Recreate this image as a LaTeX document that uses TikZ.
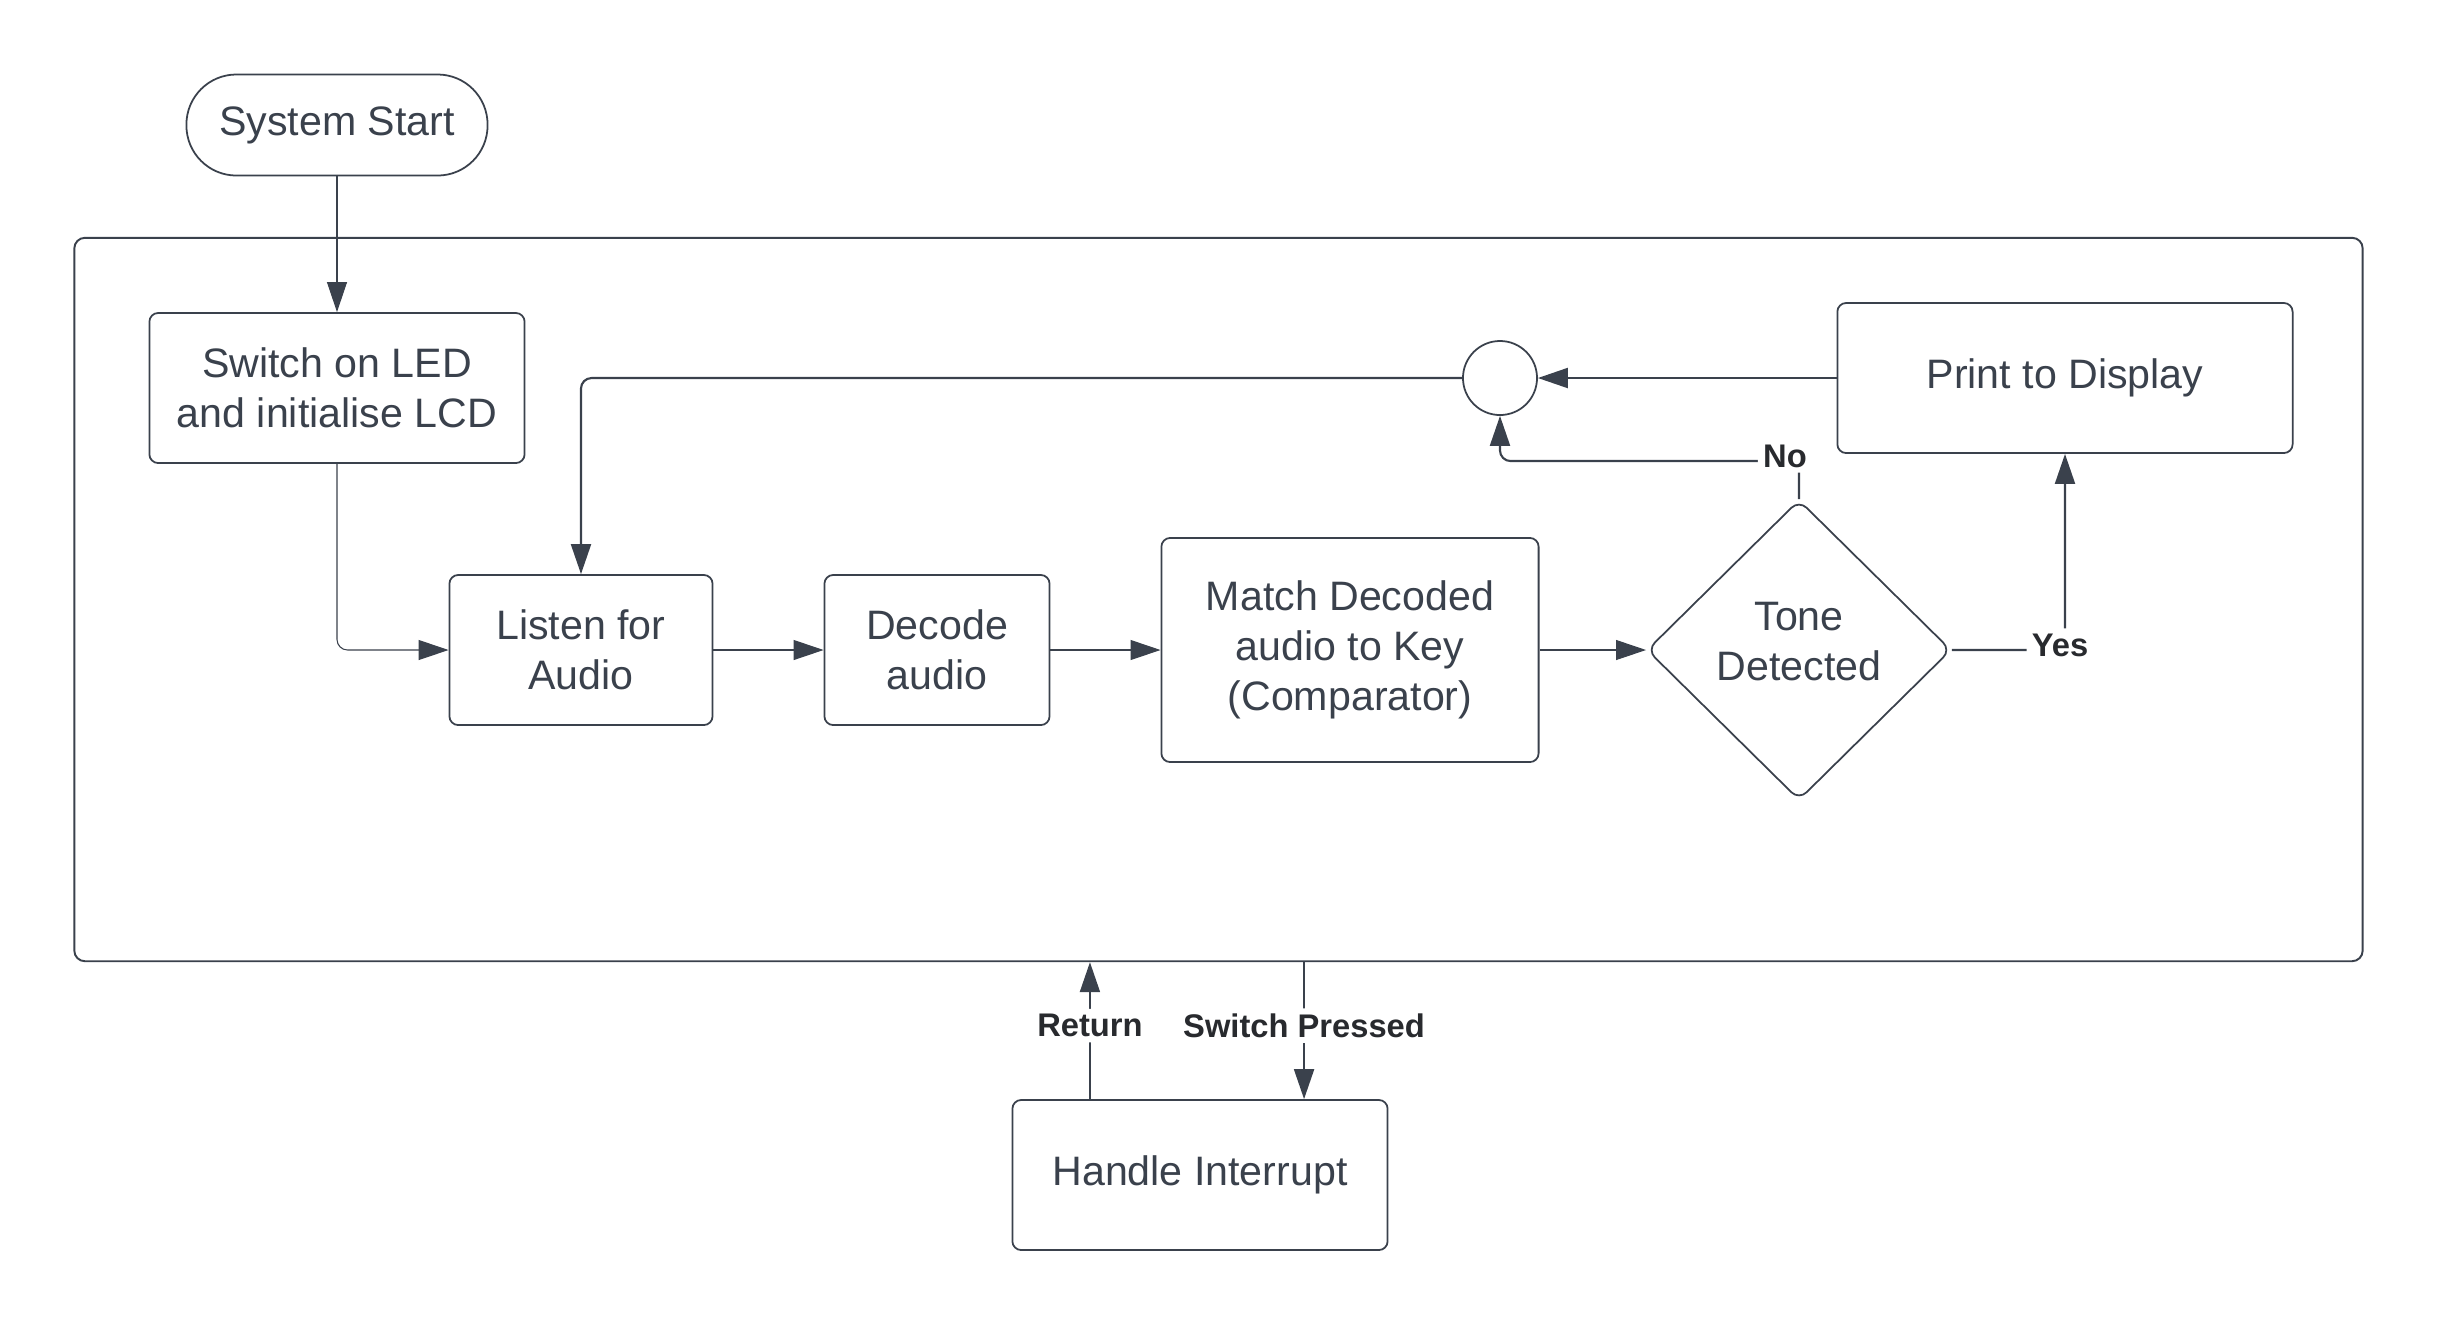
\documentclass[tikz,border=0pt]{standalone}
\usepackage{fontspec}
\setmainfont{Liberation Sans}
\usepackage{xcolor}
\usepackage{tikz}
\usetikzlibrary{shapes.geometric,arrows.meta}
\definecolor{ink}{RGB}{58,65,76}
\definecolor{lbltext}{RGB}{40,42,46}

\begin{document}
\begin{tikzpicture}[x=0.01cm,y=-0.01cm,>={Triangle[length=0.3cm,width=0.2cm]},
        box/.style={draw=ink,line width=0.5pt,rounded corners=2.5pt,text=ink,align=center,
            inner sep=0pt,font=\fontsize{11.7}{14.2}\selectfont},
        terminal/.style={box,rounded corners=0.5cm},
        decision/.style={box,diamond,rounded corners=3pt,text depth=0.17cm},
        junction/.style={draw=ink,line width=0.5pt,circle,minimum size=0.74cm,inner sep=0pt},
        frame/.style={draw=ink,line width=0.55pt,rounded corners=3pt,minimum width=22.87cm,minimum height=7.23cm,inner sep=0pt},
        conn/.style={->,draw=ink,line width=0.6pt,rounded corners=3pt},
        thinconn/.style={conn,line width=0.3pt},
        lbl/.style={fill=white,text=lbltext,inner sep=1.5pt,font=\fontsize{9.3}{11}\selectfont\bfseries}]
\useasboundingbox (0,0) rectangle (2438,1326);

\node[frame] (loop) at (1218.5,599.5) {};

\node[terminal,minimum width=3.01cm,minimum height=1.01cm] (start) at (337,125) {System Start};
\node[box,minimum width=3.75cm,minimum height=1.5cm] (led) at (337,388) {Switch on LED\\and initialise LCD};
\node[box,minimum width=2.63cm,minimum height=1.5cm] (listen) at (581,650) {Listen for\\Audio};
\node[box,minimum width=2.25cm,minimum height=1.5cm] (decode) at (937,650) {Decode\\audio};
\node[box,minimum width=3.77cm,minimum height=2.24cm] (match) at (1350,650) {Match Decoded\\audio to Key\\(Comparator)};
\node[decision,minimum width=3.04cm,minimum height=3.0cm] (tone) at (1799,650) {Tone\\Detected};
\node[box,minimum width=4.55cm,minimum height=1.5cm] (print) at (2065,378) {Print to Display};
\node[junction] (junc) at (1500,378) {};
\node[box,minimum width=3.75cm,minimum height=1.5cm] (handle) at (1200,1175) {Handle Interrupt};

\draw[thinconn] (start) -- (led);
\draw[thinconn] (led.south) |- (listen.west);
\draw[thinconn] (listen) -- (decode);
\draw[thinconn] (decode) -- (match);
\draw[thinconn] (match) -- (tone);
\draw[conn] (tone.east) -| node[lbl,pos=0.5,xshift=-0.05cm,yshift=0.05cm] {Yes} (print.south);
\draw[conn] (tone.north) -- ++(0,-38) node[lbl,xshift=-0.14cm,yshift=0.05cm] {No} -| (junc.south);
\draw[conn] (print.west) -- (junc.east);
\draw[conn] (junc.west) -| (listen.north);
\draw[conn] ([xshift=-1.1cm]handle.north) -- ([xshift=-1.1cm]handle.north |- loop.south) node[lbl,midway,yshift=0.05cm] {Return};
\draw[conn] ([xshift=1.04cm]handle.north |- loop.south) -- ([xshift=1.04cm]handle.north) node[lbl,midway,yshift=0.05cm] {Switch Pressed};
\end{tikzpicture}
\end{document}
